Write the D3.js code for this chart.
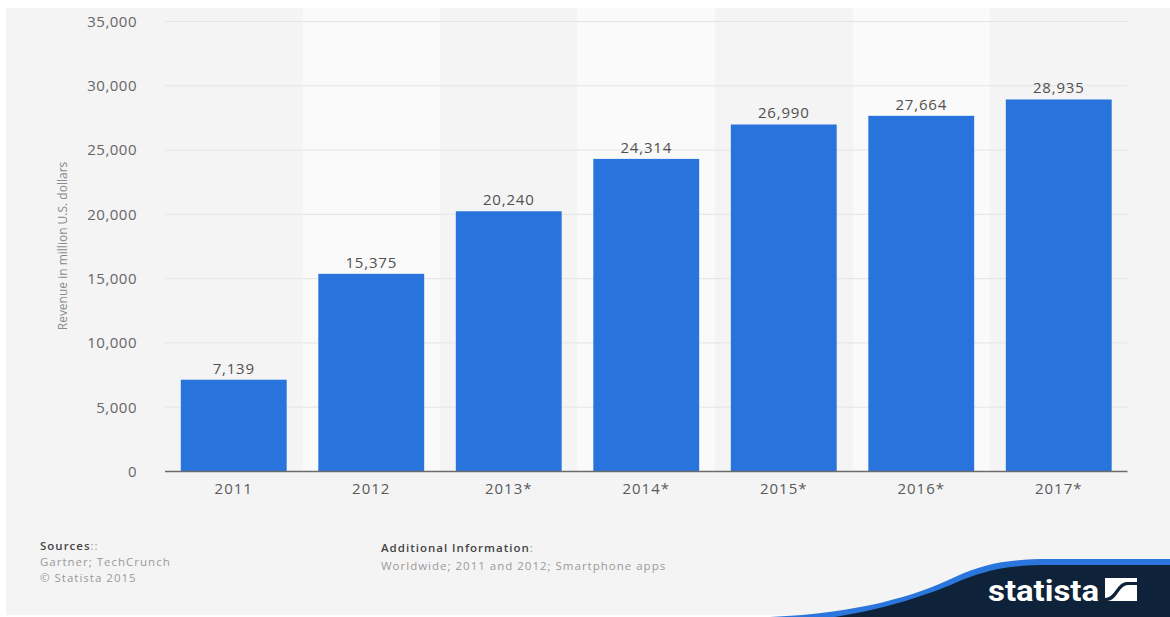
<!DOCTYPE html>
<html>
<head>
<meta charset="utf-8">
<script src="https://cdn.jsdelivr.net/npm/d3@7"></script>
<style>
  html, body { margin: 0; padding: 0; background: #ffffff; }
  svg { display: block; font-family: "Open Sans", "DejaVu Sans", sans-serif; }
</style>
</head>
<body>
<svg id="chart" width="1170" height="617"></svg>
<script>
// Mobile app revenue, worldwide (million U.S. dollars)
const years = ["2011", "2012", "2013*", "2014*", "2015*", "2016*", "2017*"];
const revenue = [7139, 15375, 20240, 24314, 26990, 27664, 28935];
const yTicks = [0, 5000, 10000, 15000, 20000, 25000, 30000, 35000];

const svg = d3.select("#chart");
const W = 1170, H = 617;

// page panel
svg.append("rect").attr("x", 6).attr("y", 8).attr("width", W - 6).attr("height", 607)
  .attr("fill", "#f4f4f4");

const x = d3.scaleBand().domain(years).range([165, 1127.5])
  .paddingInner(0.23).paddingOuter(0.115);
const y = d3.scaleLinear().domain([0, 35000]).range([471.5, 21.5]);

// alternating column shading
svg.append("g").selectAll("rect")
  .data(years.filter((d, i) => i % 2 === 1))
  .join("rect")
  .attr("x", d => x(d) - x.step() * x.paddingInner() / 2)
  .attr("width", x.step())
  .attr("y", 8)
  .attr("height", y(0) - 8)
  .attr("fill", "#fafafa");

// y axis with gridlines
const yAxis = d3.axisLeft(y).tickValues(yTicks)
  .tickSize(0).tickPadding(0)
  .tickFormat(d3.format(","));
const gy = svg.append("g").attr("transform", "translate(137,0)").call(yAxis);
gy.select(".domain").remove();
gy.selectAll("text").attr("fill", "#666").attr("font-size", 15)
  .attr("letter-spacing", 0.5)
  .attr("font-family", "Open Sans, sans-serif");

svg.append("g").selectAll("line")
  .data(yTicks.filter(d => d > 0))
  .join("line")
  .attr("x1", 165).attr("x2", 1127.5)
  .attr("y1", d => y(d)).attr("y2", d => y(d))
  .attr("stroke", "#e4e4e4").attr("stroke-width", 1);

// bars
svg.append("g").selectAll("rect")
  .data(years.map((d, i) => ({ year: d, value: revenue[i] })))
  .join("rect")
  .attr("x", d => x(d.year))
  .attr("width", x.bandwidth())
  .attr("y", d => y(d.value))
  .attr("height", d => y(0) - y(d.value))
  .attr("fill", "#2874dc");

// value labels
svg.append("g").selectAll("text")
  .data(years.map((d, i) => ({ year: d, value: revenue[i] })))
  .join("text")
  .attr("x", d => x(d.year) + x.bandwidth() / 2)
  .attr("y", d => y(d.value) - 6)
  .attr("text-anchor", "middle")
  .attr("font-size", 15)
  .attr("letter-spacing", 0.8)
  .attr("fill", "#505050")
  .text(d => d3.format(",")(d.value));

// x axis
const xAxis = d3.axisBottom(x).tickSize(0).tickPadding(12);
const gx = svg.append("g").attr("transform", `translate(0,${y(0)})`).call(xAxis);
gx.select(".domain").attr("stroke", "#6b6b6b").attr("stroke-width", 1.6)
  .attr("d", "M165,0H1127.5");
gx.selectAll("text").attr("fill", "#5a5a5a").attr("font-size", 15)
  .attr("letter-spacing", 1)
  .attr("font-family", "Open Sans, sans-serif");

// y axis title
svg.append("text")
  .attr("transform", "translate(67,246) rotate(-90)")
  .attr("text-anchor", "middle")
  .attr("font-size", 12)
  .attr("fill", "#8a8a8a")
  .text("Revenue in million U.S. dollars");

// footer notes
const foot = svg.append("g").attr("font-size", 11.5).attr("letter-spacing", 1);
const src = foot.append("text").attr("x", 40).attr("y", 550).attr("fill", "#444");
src.append("tspan").attr("font-weight", 600).text("Sources");
src.append("tspan").attr("fill", "#999").text("::");
foot.append("text").attr("x", 40).attr("y", 566).attr("fill", "#9a9a9a").text("Gartner; TechCrunch");
foot.append("text").attr("x", 40).attr("y", 582).attr("fill", "#9a9a9a").text("© Statista 2015");
const add = foot.append("text").attr("x", 381).attr("y", 552).attr("fill", "#444");
add.append("tspan").attr("font-weight", 600).text("Additional Information");
add.append("tspan").attr("fill", "#999").text(":");
foot.append("text").attr("x", 381).attr("y", 570).attr("fill", "#9a9a9a")
  .text("Worldwide; 2011 and 2012; Smartphone apps");

// brand wave and logo
svg.append("path")
  .attr("d", "M770,617 C860,613 915,596 955,577 C985,563 1010,559 1050,559 L1170,559 L1170,617 Z")
  .attr("fill", "#2a76dc");
svg.append("path")
  .attr("d", "M835,617 C895,607 935,592 962,580 C992,568 1015,565 1050,565 L1170,565 L1170,617 Z")
  .attr("fill", "#0e2239");
svg.append("text")
  .attr("x", 988).attr("y", 601)
  .attr("font-family", "Roboto, 'Open Sans', sans-serif")
  .attr("font-weight", 700).attr("font-size", 30)
  .attr("textLength", 111).attr("lengthAdjust", "spacingAndGlyphs")
  .attr("fill", "#ffffff")
  .text("statista");
const logo = svg.append("g").attr("transform", "translate(1105,578)");
logo.append("rect").attr("width", 32).attr("height", 23).attr("fill", "#ffffff");
logo.append("path")
  .attr("d", "M0,20 C10,20 12,4 22,4 L32,4 L32,7 L23,7 C14,7 12,23 2,23 L0,23 Z")
  .attr("fill", "#0e2239");
</script>
</body>
</html>
